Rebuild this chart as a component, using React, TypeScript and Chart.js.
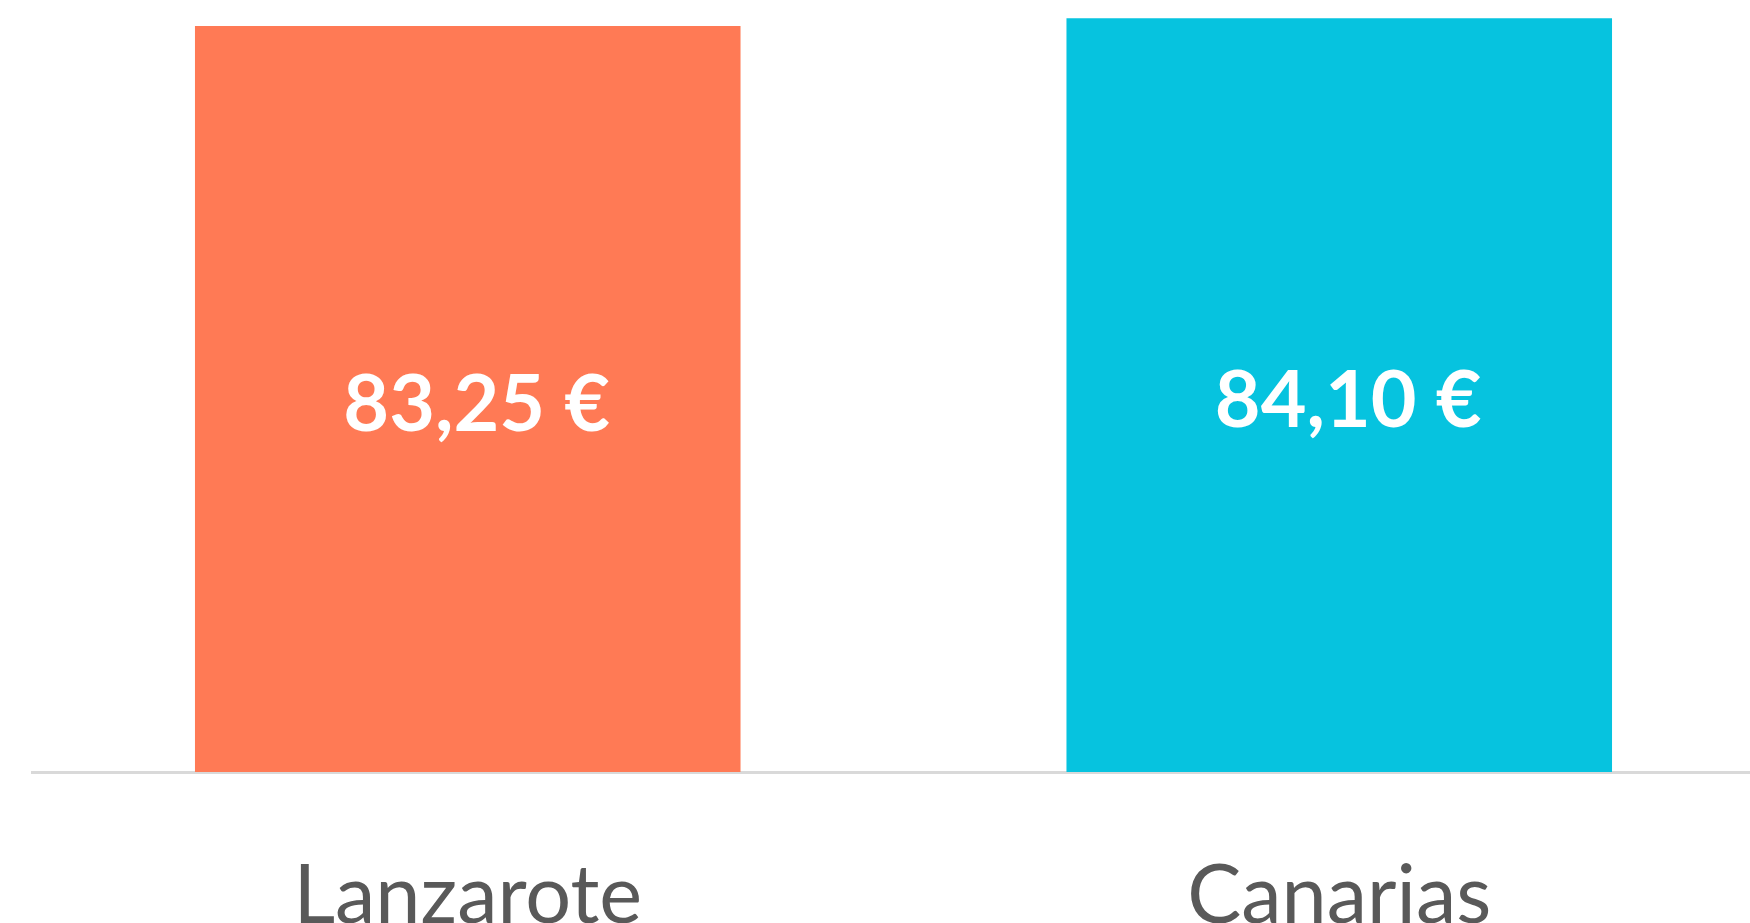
import React, { useEffect, useRef } from "react";
import { Chart, registerables } from "chart.js";

Chart.register(...registerables);

const categories = ["Lanzarote", "Canarias"];
const values = [83.25, 84.1];
const valueLabels = ["83,25 €", "84,10 €"];
const barColors = ["#FF7A55", "#06C3DF"];

const valueLabelPlugin = {
  id: "valueLabels",
  afterDatasetsDraw(chart: any) {
    const ctx = chart.ctx;
    const meta = chart.getDatasetMeta(0);
    ctx.save();
    ctx.fillStyle = "#ffffff";
    ctx.font = "bold 79px Lato";
    ctx.textAlign = "center";
    ctx.textBaseline = "alphabetic";
    meta.data.forEach((el: any, i: number) => {
      const mid = (el.y + el.base) / 2;
      ctx.fillText(valueLabels[i], el.x + 9, mid + 32);
    });
    ctx.restore();
  },
};

export default function App() {
  const ref = useRef<HTMLCanvasElement>(null);
  useEffect(() => {
    if (!ref.current) return;
    const chart = new Chart(ref.current, {
      type: "bar",
      data: {
        labels: categories,
        datasets: [
          {
            data: values,
            backgroundColor: barColors,
            borderWidth: 0,
            categoryPercentage: 1,
            barPercentage: 0.626,
          },
        ],
      },
      options: {
        responsive: false,
        animation: false,
        devicePixelRatio: 1,
        layout: { padding: { left: 32, top: 0, right: 0, bottom: 0 } },
        plugins: {
          legend: { display: false },
          tooltip: { enabled: false },
        },
        scales: {
          x: {
            grid: { display: false, drawTicks: false },
            border: { display: true, color: "#D9D9D9", width: 3 },
            ticks: {
              color: "#595959",
              font: { family: "Lato", size: 81 },
              padding: 76,
            },
            afterFit(scale: any) {
              scale.height = 151;
            },
          },
          y: {
            display: false,
            min: 0,
            max: 86.15,
          },
        },
      },
      plugins: [valueLabelPlugin],
    });
    return () => chart.destroy();
  }, []);
  return (
    <div
      style={{
        position: "absolute",
        left: 0,
        top: 0,
        width: 1750,
        height: 923,
        overflow: "hidden",
        background: "#ffffff",
      }}
    >
      <canvas ref={ref} width={1775} height={923} style={{ display: "block" }} />
    </div>
  );
}
